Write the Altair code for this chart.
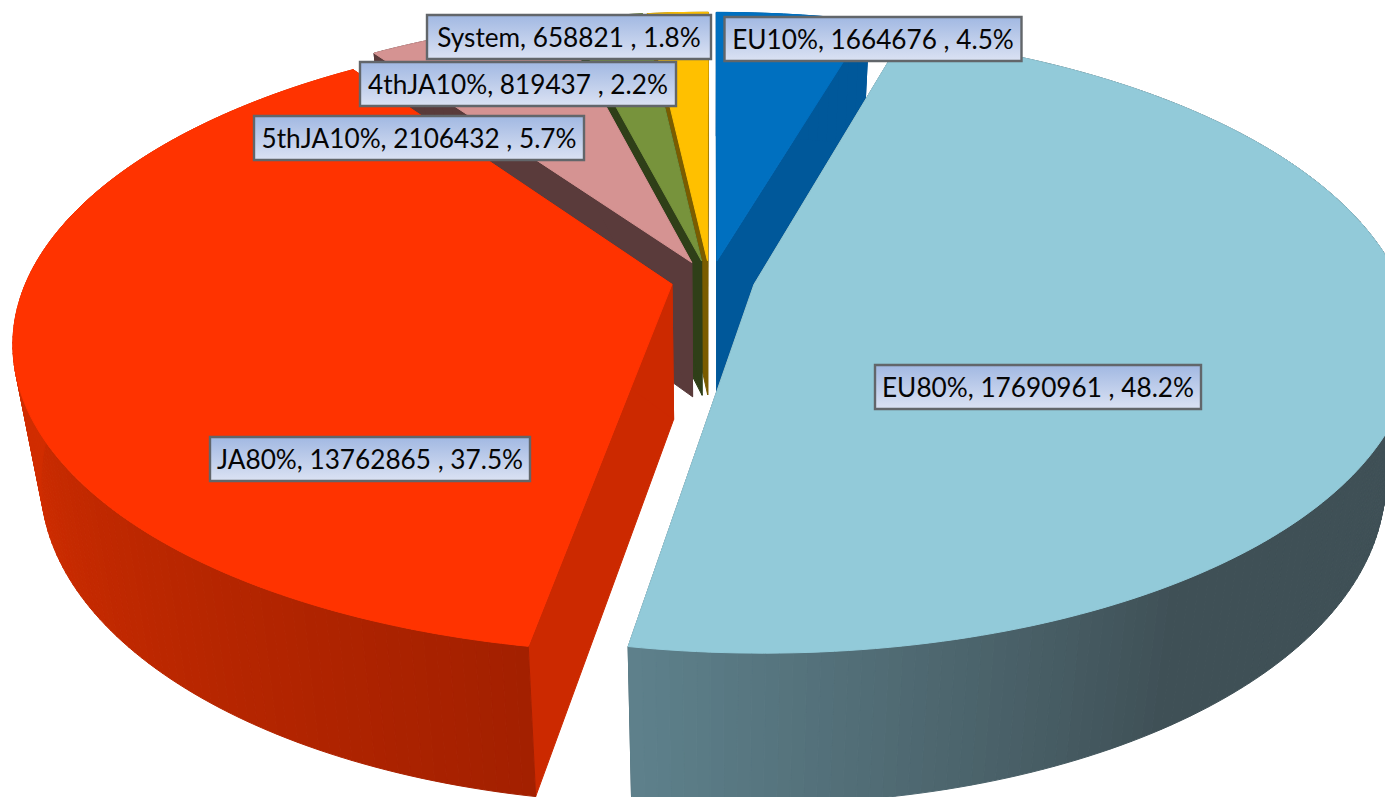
import math
import altair as alt
import pandas as pd

names = ["EU10%", "EU80%", "JA80%", "5thJA10%", "4thJA10%", "System"]
values = [1664676, 17690961, 13762865, 2106432, 819437, 658821]
percents = ["4.5", "48.2", "37.5", "5.7", "2.2", "1.8"]
top_colors = ["#0070c0", "#92cad9", "#ff3300", "#d59392", "#77933c", "#ffc000"]
edge_colors = ["#00589a", "#4a6570", "#cc2900", "#5a3b3b", "#2f3f18", "#7a5c00"]
wall_near = ["#00589a", "#5e818c", "#a32000", "#5a3b3b", "#2f3f18", "#7a5c00"]
wall_far = ["#00589a", "#3f5056", "#d12d00", "#5a3b3b", "#2f3f18", "#7a5c00"]
wall_order = [5, 4, 3, 0]
top_order = [3, 4, 5, 0]
front_order = [2, 1]
explode_nudge = [-0.003, 0.0, 0.0, -0.006, -0.006, -0.005]

label_cx = [873, 1038, 370, 419, 518, 569]
label_cy = [39, 387, 459, 138, 84, 37]
label_w = [297, 326, 320, 330, 316, 284]
LABEL_H = 44

CX, CY, A, B, K, S, H, EXPLODE = 713.0, 280.0, 645.0, 300.0, 0.1815, 0.96, 135.0, 0.065


def project(u, v, level):
    w = 1 - K * v
    scale = S if level else 1.0
    return CX + scale * A * u / w, CY + scale * B * v / w + (H / w if level else 0.0)


def mix(c1, c2, f):
    a = [int(c1[i:i + 2], 16) for i in (1, 3, 5)]
    b = [int(c2[i:i + 2], 16) for i in (1, 3, 5)]
    return "#%02x%02x%02x" % tuple(round(p + (q - p) * f) for p, q in zip(a, b))


total = sum(values)
rows = []
pid = 0


def add_poly(points, color):
    global pid
    for n, (x, y) in enumerate(points):
        rows.append({"pid": pid, "seq": n, "x": x, "y": y, "paint": color})
    pid += 1


angles = []
start = 0.0
for val in values:
    sweep = 2 * math.pi * val / total
    angles.append((start, start + sweep))
    start += sweep


def geometry(i):
    t0, t1 = angles[i]
    mid = (t0 + t1) / 2
    ou, ov = EXPLODE * math.sin(mid) + explode_nudge[i], -EXPLODE * math.cos(mid)
    steps = max(4, int((t1 - t0) / math.radians(1)))
    ts = [t0 + (t1 - t0) * n / steps for n in range(steps + 1)]
    rim = [(ou + math.sin(t), ov - math.cos(t)) for t in ts]
    return ou, ov, ts, rim, steps


def add_walls(i):
    ou, ov, ts, rim, steps = geometry(i)
    for uv in (rim[0], rim[-1]):
        add_poly([project(ou, ov, 0), project(*uv, 0), project(*uv, 1), project(ou, ov, 1)], edge_colors[i])
    for n in range(steps):
        deg = math.degrees((ts[n] + ts[n + 1]) / 2)
        if i == 1:
            f = min(1.0, max(0.0, (190 - deg) / 43))
        elif i == 2:
            f = min(1.0, max(0.0, (deg - 190) / 65))
        else:
            f = 0.0
        add_poly([project(*rim[n], 0), project(*rim[n + 1], 0), project(*rim[n + 1], 1), project(*rim[n], 1)],
                 mix(wall_near[i], wall_far[i], f))


def add_top(i):
    ou, ov, ts, rim, steps = geometry(i)
    add_poly([project(ou, ov, 0)] + [project(*p, 0) for p in rim], top_colors[i])


for i in wall_order:
    add_walls(i)
for i in top_order:
    add_top(i)
for i in front_order:
    add_walls(i)
    add_top(i)

poly = pd.DataFrame(rows)
labels = pd.DataFrame({
    "text": [f"{n}, {v} , {p}%" for n, v, p in zip(names, values, percents)],
    "cx": label_cx,
    "cy": label_cy,
    "x0": [c - w / 2 for c, w in zip(label_cx, label_w)],
    "x1": [c + w / 2 for c, w in zip(label_cx, label_w)],
    "y0": [c - LABEL_H / 2 for c in label_cy],
    "y1": [c + LABEL_H / 2 for c in label_cy],
})

xs = alt.Scale(domain=[8, 1385], nice=False, zero=False)
ys = alt.Scale(domain=[797, 8], nice=False, zero=False)

faces = alt.Chart(poly).mark_line(interpolate="linear-closed", strokeWidth=1, clip=True).encode(
    x=alt.X("x:Q", scale=xs, axis=None),
    y=alt.Y("y:Q", scale=ys, axis=None),
    order="seq:Q",
    detail="pid:N",
    fill=alt.Fill("paint:N", scale=None),
    stroke=alt.Stroke("paint:N", scale=None),
)

grad = alt.Gradient(
    gradient="linear", x1=0, y1=0, x2=0, y2=1,
    stops=[alt.GradientStop(color="#a1b8e2", offset=0), alt.GradientStop(color="#dbe2f3", offset=1)],
)
boxes = alt.Chart(labels).mark_rect(fill=grad, stroke="#62666a", strokeWidth=2.4).encode(
    x=alt.X("x0:Q", scale=xs, axis=None),
    x2="x1:Q",
    y=alt.Y("y0:Q", scale=ys, axis=None),
    y2="y1:Q",
)
texts = alt.Chart(labels).mark_text(font="Lato", fontSize=26.2, dy=1.5, color="#050505", align="center", baseline="middle").encode(
    x=alt.X("cx:Q", scale=xs, axis=None),
    y=alt.Y("cy:Q", scale=ys, axis=None),
    text="text:N",
)

chart = alt.layer(faces, boxes, texts).properties(
    width=1377, height=789, padding=0, autosize=alt.AutoSizeParams(type="none")
).configure_view(stroke=None)

chart.save("out.html", embed_options={"renderer": "svg", "actions": False})
